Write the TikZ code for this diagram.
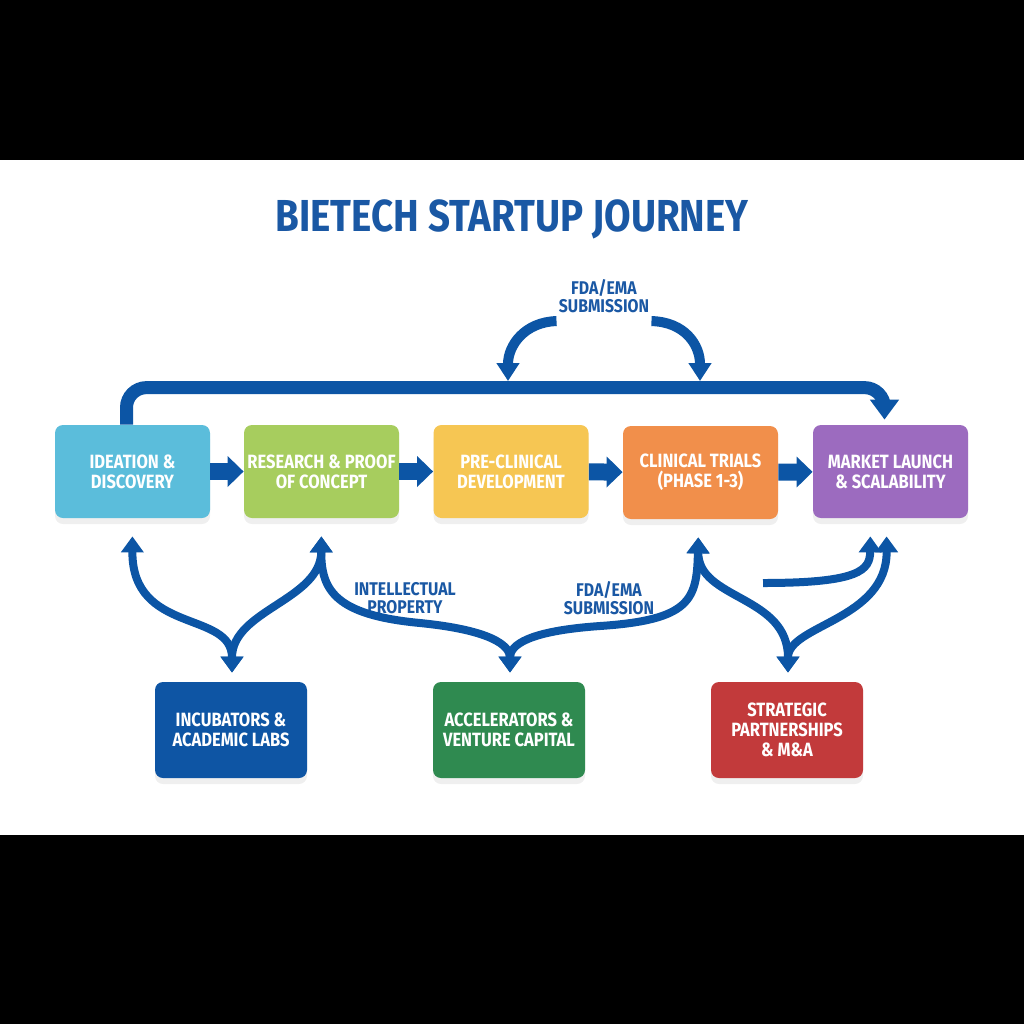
\documentclass[tikz,border=0pt]{standalone}
\usepackage{fontspec}
\setmainfont{Fira Sans}[FakeStretch=0.86]
\usetikzlibrary{arrows.meta, shadows}

\definecolor{titleblue}{HTML}{1A58A4}
\definecolor{arrowblue}{HTML}{0C55A5}
\definecolor{ideacol}{HTML}{5BBDDB}
\definecolor{researchcol}{HTML}{A7CD5E}
\definecolor{precol}{HTML}{F6C653}
\definecolor{clinicol}{HTML}{F18F4B}
\definecolor{marketcol}{HTML}{9C6BBF}
\definecolor{incubcol}{HTML}{0E55A4}
\definecolor{accelcol}{HTML}{2F8A50}
\definecolor{stratcol}{HTML}{C23A3B}

\begin{document}
\begin{tikzpicture}[x=0.5pt, y=-0.5pt,
    stage/.style={rounded corners=4pt, minimum width=77.5pt, minimum height=46.5pt, inner sep=1pt,
        align=center, text=white, font=\bfseries\fontsize{9.6}{10}\selectfont,
        drop shadow={opacity=0.12, shadow xshift=0pt, shadow yshift=-3pt}},
    partner/.style={stage, minimum width=76pt, minimum height=48pt},
    lbl/.style={text=titleblue, font=\bfseries\fontsize{9.2}{9}\selectfont, align=center, inner sep=1pt},
    push/.style={draw=arrowblue, line width=8.5pt, -{Triangle[width=15pt,length=8pt]}},
    link/.style={draw=arrowblue, line width=4pt, shorten >=9pt, shorten <=9pt,
        {Triangle[width=11pt,length=8pt]}-{Triangle[width=11pt,length=8pt]}},
    oneway/.style={draw=arrowblue, line width=4pt, shorten >=9pt, -{Triangle[width=11pt,length=8pt]}},
    feed/.style={draw=arrowblue, line width=5pt, -{Triangle[width=11pt,length=9pt]}}]
    \useasboundingbox (0,0) rectangle (1024,1024);
    \fill[black] (0,0) rectangle (1024,160);
    \fill[white] (0,160) rectangle (1024,835);
    \fill[black] (0,835) rectangle (1024,1024);

    \node[text=titleblue, font=\bfseries\fontsize{22.4}{24}\selectfont] (title) at (512,219) {BIETECH STARTUP JOURNEY};

    % stages
    \node[stage, fill=ideacol] (ideat) at (132.5,471.5) {IDEATION \&\\DISCOVERY};
    \node[stage, fill=researchcol] (research) at (321.5,471.5) {RESEARCH \& PROOF\\OF CONCEPT};
    \node[stage, fill=precol] (preclin) at (511,471.5) {PRE-CLINICAL\\DEVELOPMENT};
    \node[stage, fill=clinicol] (clinical) at (700.5,472.5) {CLINICAL TRIALS\\(PHASE 1-3)};
    \node[stage, fill=marketcol] (market) at (890.5,471.5) {MARKET LAUNCH\\\& SCALABILITY};

    % support
    \node[partner, fill=incubcol] (incub) at (231,730) {INCUBATORS \&\\ACADEMIC LABS};
    \node[partner, fill=accelcol] (accel) at (509,730) {ACCELERATORS \&\\VENTURE CAPITAL};
    \node[partner, fill=stratcol] (strat) at (787,730) {STRATEGIC\\PARTNERSHIPS\\\& M\&A};

    \draw[push] (ideat) -- (research);
    \draw[push] (research) -- (preclin);
    \draw[push] (preclin) -- (clinical);
    \draw[push] (clinical) -- (market);

    % fast track
    \draw[draw=arrowblue, line width=6.5pt, rounded corners=10pt, shorten >=2.5pt, -{Triangle[width=14pt,length=10pt]}]
        ([xshift=-3pt]ideat.north) -- ++(0,-37) -| ([xshift=-3pt]market.north);
    \node[lbl] (fdatop) at (604,296) {FDA/EMA\\SUBMISSION};
    \coordinate (barL) at (508,381);
    \coordinate (barR) at (700,381);
    \draw[feed] ([yshift=-3pt]fdatop.south west) .. controls (525,322) and (508,345) .. (barL);
    \draw[feed] ([yshift=-3pt]fdatop.south east) .. controls (685,322) and (700,345) .. (barR);

    \node[lbl] (ip) at (405,598) {INTELLECTUAL\\PROPERTY};
    \node[lbl] (fdalow) at (609,598) {FDA/EMA\\SUBMISSION};

    \draw[link, shorten >=4.5pt] (ideat.south) .. controls (132,635) and (232,610) .. ([xshift=0.5pt]incub.north);
    \draw[link, shorten >=4.5pt] (research.south) .. controls (321,600) and (232,610) .. ([xshift=0.5pt]incub.north);
    \draw[link, shorten >=4.5pt] (research.south) .. controls (321,590) and (335,615) .. (420,623)
        .. controls (490,630) and (510,645) .. ([xshift=0.5pt]accel.north);
    \draw[link, shorten >=4.5pt] ([xshift=-1pt]clinical.south) .. controls (697,600) and (690,620) .. (600,626)
        .. controls (528,631) and (510,645) .. ([xshift=0.5pt]accel.north);
    \draw[link, shorten >=4.5pt] ([xshift=-1pt]clinical.south) .. controls (698,600) and (788,595) .. ([xshift=0.5pt]strat.north);
    \draw[link, shorten <=4.5pt] ([xshift=0.5pt]strat.north) .. controls (788,625) and (887,620) .. ([xshift=-2pt]market.south);
    \coordinate (loose) at (763,583);
    \draw[oneway] (loose) .. controls (860,583) and (870,570) .. ([xshift=-10pt]market.south);
\end{tikzpicture}
\end{document}
